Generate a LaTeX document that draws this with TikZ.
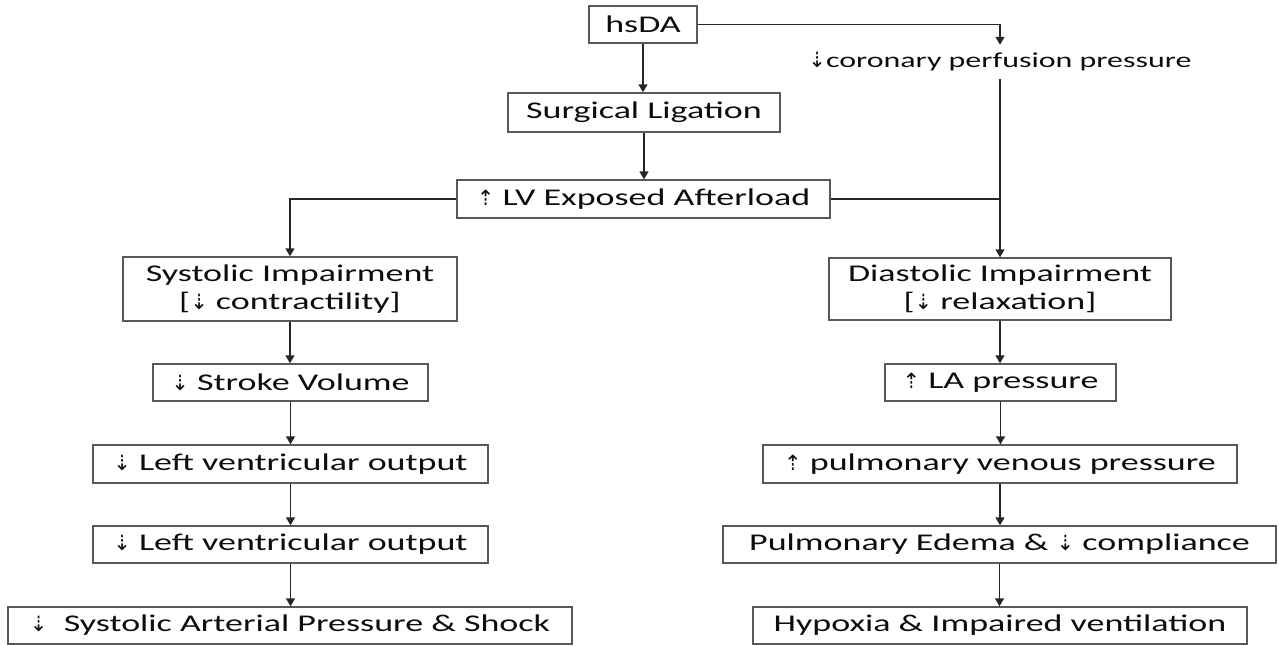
\documentclass[tikz,border=0pt]{standalone}
\usepackage{fontspec}
\setmainfont{Carlito}[FakeStretch=1.5]
\newfontfamily\arrf{DejaVu Sans}
\usetikzlibrary{arrows.meta}
\newcommand\dnar{{\arrf\fontsize{21}{21}\selectfont ⇣}}
\newcommand\upar{{\arrf\fontsize{21}{21}\selectfont ⇡}}
\begin{document}
\begin{tikzpicture}[x=1pt,y=-1pt,
  box/.style={draw=black!65,line width=1.4pt,inner sep=0pt,align=center,
    font=\fontsize{24}{28}\selectfont,text=black!95},
  arr/.style={line width=1.4pt,draw=black!85,-{Triangle[length=8pt,width=9pt]}},
  ln/.style={line width=1.4pt,draw=black!85}]
\useasboundingbox (0,0) rectangle (1279,645);
\node[box,minimum width=108pt,minimum height=37pt] (hsda) at (643,24.5) {hsDA};
\node[box,minimum width=272pt,minimum height=39pt] (surg) at (644,112.5) {Surgical Ligation};
\node[box,minimum width=373pt,minimum height=38pt] (lv) at (643.5,199) {\upar\ LV Exposed Afterload};
\node[inner sep=0pt,minimum height=34pt,font=\fontsize{21.3}{24}\selectfont,text=black!95] (cor) at (1000,62) {\dnar coronary perfusion pressure};
\node[box,minimum width=334pt,minimum height=64pt] (sys) at (290,289) {Systolic Impairment\\\relax[\dnar\ contractility]};
\node[box,minimum width=342pt,minimum height=62pt] (dia) at (1000,289) {Diastolic Impairment\\\relax[\dnar\ relaxation]};
\node[box,minimum width=275pt,minimum height=37pt] (sv) at (290.5,382.5) {\dnar\ Stroke Volume};
\node[box,minimum width=395pt,minimum height=38pt] (lvoa) at (290.5,464) {\dnar\ Left ventricular output};
\node[box,minimum width=395pt,minimum height=37pt] (lvob) at (290.5,544.5) {\dnar\ Left ventricular output};
\node[box,minimum width=564pt,minimum height=37pt] (sap) at (290,625.5) {\dnar\ \ Systolic Arterial Pressure \& Shock};
\node[box,minimum width=231pt,minimum height=37pt] (la) at (1000.5,382.5) {\upar\ LA pressure};
\node[box,minimum width=474pt,minimum height=38pt] (pvp) at (1000,464) {\upar\ pulmonary venous pressure};
\node[box,minimum width=553pt,minimum height=37pt] (pe) at (999.5,544.5) {Pulmonary Edema \& \dnar\ compliance};
\node[box,minimum width=494pt,minimum height=37pt] (hyp) at (1000,625.5) {Hypoxia \& Impaired ventilation};
\draw[arr] (hsda.south) -- (hsda.south|-surg.north);
\draw[arr] (surg.south) -- (surg.south|-lv.north);
\draw[arr] (hsda.east) -| (cor.north);
\draw[arr] (cor.south) -- (dia.north);
\draw[ln] (lv.east) -- (lv.east-|dia.north);
\draw[arr] (lv.west) -| (sys.north);
\draw[arr] (sys.south) -- (sys.south|-sv.north);
\draw[arr] (sv.south) -- (sv.south|-lvoa.north);
\draw[arr] (lvoa.south) -- (lvoa.south|-lvob.north);
\draw[arr] (lvob.south) -- (lvob.south|-sap.north);
\draw[arr] (dia.south) -- (dia.south|-la.north);
\draw[arr] (la.south) -- (la.south|-pvp.north);
\draw[arr] (pvp.south) -- (pvp.south|-pe.north);
\draw[arr] (pe.south) -- (pe.south|-hyp.north);
\end{tikzpicture}
\end{document}
